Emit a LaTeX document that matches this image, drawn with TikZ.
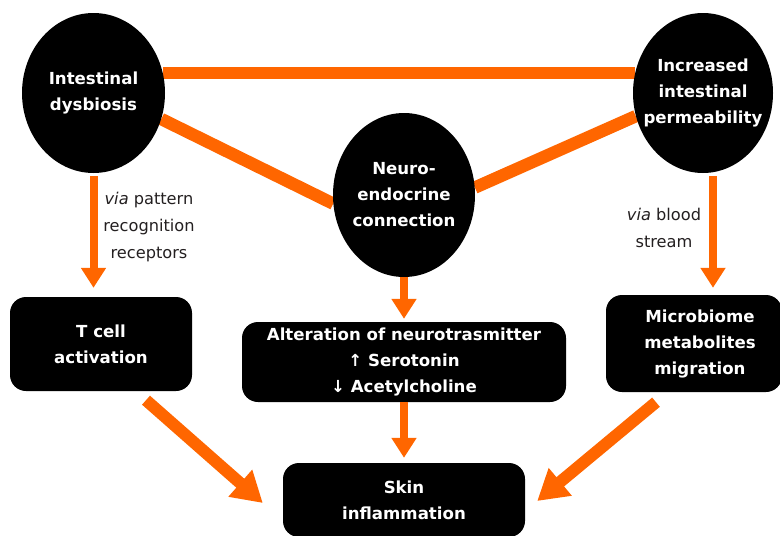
\documentclass[tikz,border=0pt]{standalone}
\usepackage{fontspec}
\setmainfont{DejaVu Sans}
\usetikzlibrary{shapes.geometric,arrows.meta,calc,backgrounds}
\definecolor{orangeC}{RGB}{255,102,0}
\definecolor{labelC}{RGB}{35,31,32}
\begin{document}
\begin{tikzpicture}[x=1pt,y=-1pt,
  blob/.style={ellipse,fill=black,inner sep=0pt},
  blobtxt/.style={text=white,font=\fontsize{16.6}{26}\selectfont\bfseries,align=center,inner sep=0pt},
  rbox/.style={rectangle,rounded corners=16pt,fill=black,text=white,font=\fontsize{16.6}{26}\selectfont\bfseries,align=center,inner sep=0pt},
  note/.style={text=labelC,font=\fontsize{16.2}{27}\selectfont,align=center,inner sep=0pt},
  bar/.style={draw=orangeC,line width=12.5pt},
  varrow/.style={draw=orangeC,line width=8pt,-{Triangle[width=24pt,length=20pt]}},
  darrow/.style={draw=orangeC,line width=12pt,-{Triangle[width=34pt,length=30pt]}}]
\useasboundingbox (0,0) rectangle (780,536);
% ellipses
\node[blob,minimum width=143pt,minimum height=160pt] (dys) at (93.5,93) {};
\node[blobtxt] (dyst) at (dys.center) {Intestinal\\dysbiosis};
\node[blob,minimum width=140pt,minimum height=160pt] (perm) at (703,93) {};
\node[blobtxt] (permt) at (perm.center) {Increased\\intestinal\\permeability};
\node[blob,minimum width=142pt,minimum height=164pt] (neuro) at (404,195) {};
\node[blobtxt] (neurot) at (neuro.center) {Neuro-\\endocrine\\connection};
% boxes
\node[rbox,minimum width=182pt,minimum height=94pt] (tcell) at (101,344) {T cell\\activation};
\node[rbox,minimum width=324pt,minimum height=80pt] (alt) at (404,362) {Alteration of neurotrasmitter\\↑ Serotonin\\↓ Acetylcholine};
\node[rbox,minimum width=176pt,minimum height=97pt] (micro) at (694,343.5) {\hspace*{12pt}Microbiome\\\hspace*{12pt}metabolites\\\hspace*{12pt}migration};
\node[rbox,minimum width=242pt,minimum height=74pt] (skin) at (404,500) {Skin\\inflammation};
% labels
\node[note] (lab1) at (149,227) {\textit{via} pattern\\recognition\\receptors};
\node[note] (lab2) at (664,228) {\textit{via} blood\\stream};
% connectors
\begin{pgfonlayer}{background}
\draw[bar] (dys.16) -- (perm.164 |- dys.16);
\draw[bar] (dys.-21) -- (neuro.187);
\draw[bar] (neuro.6) -- (perm.199);
\end{pgfonlayer}
\draw[varrow,shorten <=3pt,shorten >=9pt] (dys.south) -- (tcell.north -| dys.south);
\draw[varrow,shorten <=3pt,shorten >=7pt] ([xshift=10pt]perm.south) -- ([xshift=10pt]perm.south |- micro.north);
\draw[varrow,shorten >=3pt] (neuro.south) -- (alt.north);
\draw[varrow,shorten >=5pt] (alt.south) -- (skin.north);
\coordinate (t1) at ($(tcell.south)+(45,9)$);
\coordinate (t2) at ($(skin.west)+(-20,3)$);
\draw[darrow] (t1) -- (t2);
\coordinate (m1) at ($(micro.south)+(-38,10)$);
\coordinate (m2) at ($(skin.east)+(12,1)$);
\draw[darrow] (m1) -- (m2);
\end{tikzpicture}
\end{document}
